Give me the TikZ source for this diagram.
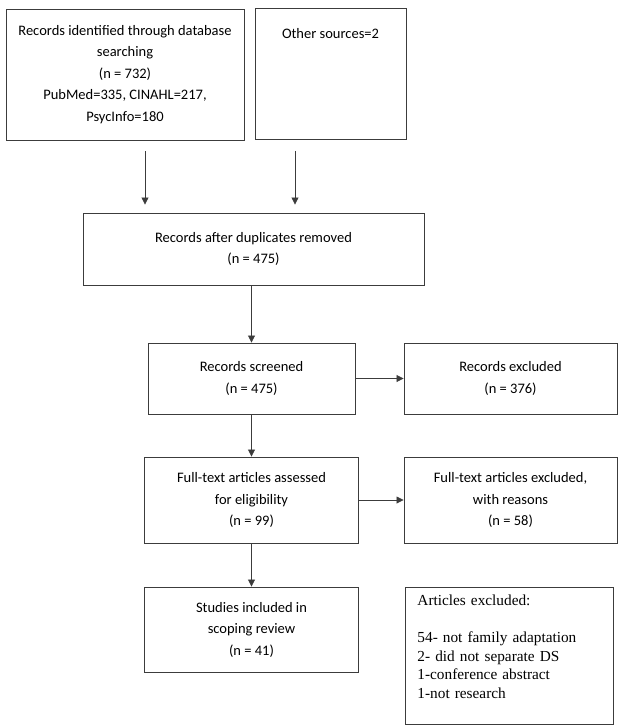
\documentclass[tikz,border=0pt]{standalone}
\usepackage{fontspec}
\setmainfont{Carlito}
\newfontfamily\notefont{Liberation Serif}
\usetikzlibrary{arrows.meta,positioning}
\definecolor{lineclr}{RGB}{60,60,60}

\begin{document}
\begin{tikzpicture}[x=1pt, y=-1pt,
    flowbox/.style={rectangle, draw=lineclr, line width=0.9pt, align=center,
        font=\fontsize{14.5}{21.5}\selectfont, inner sep=0pt},
    arr/.style={-{Triangle[length=7pt,width=7pt]}, line width=0.8pt, lineclr}
]
    \useasboundingbox (0,0) rectangle (628,728);
    % sources
    \node[flowbox, minimum width=238pt, minimum height=131pt] (db) at (125,74.5)
        {Records identified through database\\ searching\\ (n = 732)\\ PubMed=335, CINAHL=217,\\ PsycInfo=180};
    \node[flowbox, minimum width=151pt, text height=30pt, text depth=101pt, anchor=north] (other) at (330.5,8)
        {Other sources=2};
    % main column
    \node[flowbox, minimum width=341pt, minimum height=72pt] (dup) at (253.5,249)
        {Records after duplicates removed\\ (n = 475)};
    \node[flowbox, minimum width=207pt, minimum height=71pt] (scr) at (251.5,378.5)
        {Records screened\\ (n = 475)};
    \node[flowbox, minimum width=214pt, minimum height=86pt] (full) at (251.5,500)
        {Full-text articles assessed\\ for eligibility\\ (n = 99)};
    \node[flowbox, minimum width=214pt, minimum height=85pt] (inc) at (251.5,629.5)
        {Studies included in\\ scoping review\\ (n = 41)};
    % exclusions
    \node[flowbox, minimum width=213pt, minimum height=71pt] (exc) at (510.5,378.5)
        {Records excluded\\ (n = 376)};
    \node[flowbox, minimum width=213pt, minimum height=86pt] (fexc) at (510.5,500)
        {Full-text articles excluded,\\ with reasons\\ (n = 58)};
    \node[flowbox, font=\notefont\fontsize{15.3}{18.5}\selectfont, align=left, text width=184pt,
        inner xsep=12pt, text height=18.5pt, text depth=118.5pt, anchor=north west] (why) at (405,587)
        {Articles excluded:\\[18.5pt]
         54- not family adaptation\\
         2- did not separate DS\\
         1-conference abstract\\
         1-not research};
    % connectors
    \draw[arr, shorten <=11pt, shorten >=8pt] ([xshift=20pt]db.south) -- ([xshift=20pt]db.south |- dup.north);
    \draw[arr, shorten <=11pt, shorten >=8pt] ([xshift=-35.5pt]other.south) -- ([xshift=-35.5pt]other.south |- dup.north);
    \draw[arr] (scr |- dup.south) -- (scr.north);
    \draw[arr] (scr) -- (exc);
    \draw[arr] (scr) -- (full);
    \draw[arr] (full) -- (fexc);
    \draw[arr] (full) -- (inc);
\end{tikzpicture}
\end{document}
